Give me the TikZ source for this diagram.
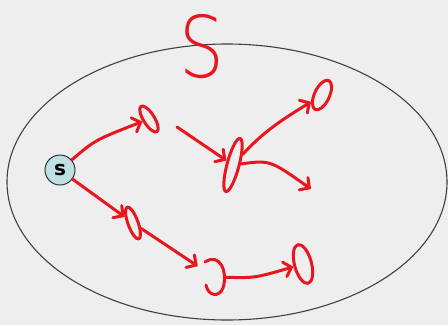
\documentclass[tikz,border=0pt]{standalone}
\usepackage{fontspec}
\setsansfont{DejaVu Sans}
\newfontfamily\thinfont{DejaVuSans-ExtraLight.ttf}
\usetikzlibrary{arrows.meta,shapes.geometric}
\definecolor{bg}{RGB}{238,238,238}
\definecolor{pen}{RGB}{232,22,30}
\definecolor{sfill}{RGB}{190,224,228}
\begin{document}
\begin{tikzpicture}[x=1pt,y=-1pt,
  scribble/.style={draw=pen,line width=3pt,line cap=round,line join=round},
  edge/.style={scribble,-{Straight Barb[length=7pt,width=15pt,line cap=round]}},
  oval/.style={ellipse,scribble,inner sep=0pt}]
\fill[bg] (0,0) rectangle (448,325);
\useasboundingbox (0,0) rectangle (448,325);
\draw[line width=1.1pt,draw=black!75] (227,182) ellipse [x radius=220pt, y radius=138pt];
\node[text=pen,font=\thinfont\fontsize{85}{85}\selectfont,xscale=0.83,inner sep=0pt] (title) at (202,47) {S};
\node[circle,draw=black!80,line width=1pt,fill=sfill,minimum size=30pt,inner sep=0pt,
      font=\sffamily\bfseries\fontsize{20}{20}\selectfont] (s) at (60,170) {s};
\node[oval,minimum width=30pt,minimum height=11pt,rotate=-58] (a) at (149,119) {};
\node[oval,minimum width=55pt,minimum height=12pt,rotate=75] (b) at (233,165) {};
\node[oval,minimum width=32pt,minimum height=15pt,rotate=65] (c) at (322,95) {};
\node[oval,minimum width=34pt,minimum height=10pt,rotate=-70] (f) at (133,223) {};
\node[oval,minimum width=40pt,minimum height=17pt,rotate=-75] (h) at (303,264) {};
\node[ellipse,minimum width=24pt,minimum height=38pt,inner sep=0pt] (g) at (214,277) {};
\draw[scribble] (205,262) .. controls (220,252) and (228,272) .. (223,288)
                .. controls (219,298) and (208,296) .. (206,285);
\coordinate (p1) at (177,127);
\coordinate (e) at (311,189);
\draw[edge] (s) .. controls (95,140) .. (a);
\draw[edge] (p1) -- (b);
\draw[edge] (b) .. controls (265,130) and (285,118) .. (c);
\draw[edge] (b) .. controls (270,160) .. (e);
\draw[edge] (s) -- (f);
\draw[edge,shorten >=6pt] (f) -- (g);
\draw[edge] (g) .. controls (255,278) .. (h);
\end{tikzpicture}
\end{document}
